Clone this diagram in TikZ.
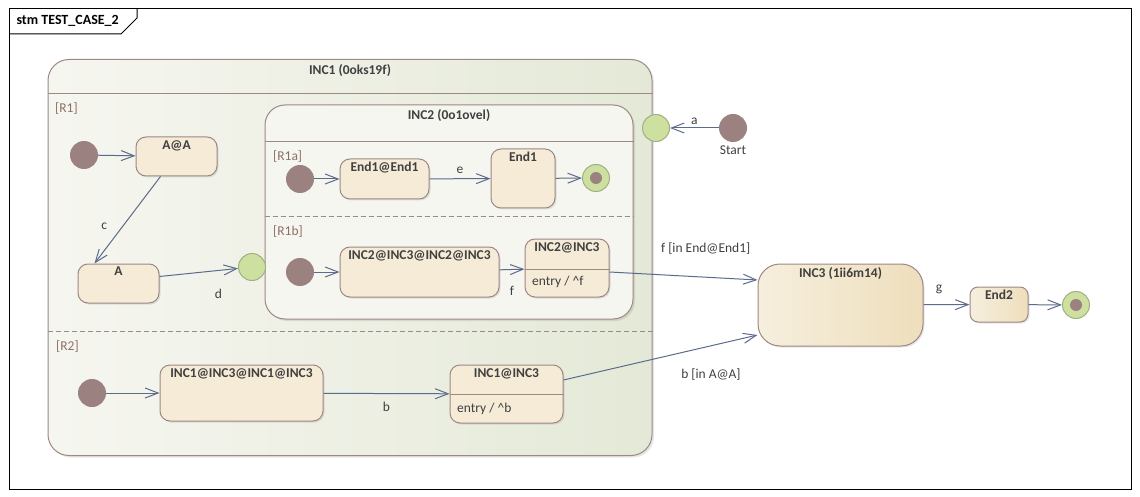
\documentclass[tikz,border=0pt]{standalone}
\usepackage{fontspec}
\setmainfont{Carlito}
\usepackage{tikz}
\usetikzlibrary{arrows.meta,shadows}
\usepackage{xcolor}
\definecolor{bordc}{RGB}{158,136,132}
\definecolor{statec}{RGB}{245,235,215}
\definecolor{initc}{RGB}{155,129,127}
\definecolor{greenc}{RGB}{205,224,160}
\definecolor{greenb}{RGB}{160,176,130}
\definecolor{arrc}{RGB}{92,107,140}
\definecolor{textc}{RGB}{64,64,64}
\definecolor{regc}{RGB}{140,112,102}
\definecolor{incl}{RGB}{246,246,240}
\definecolor{incr}{RGB}{228,233,215}
\definecolor{inctwo}{RGB}{246,246,240}
\definecolor{inc3l}{RGB}{246,239,222}
\definecolor{inc3r}{RGB}{238,222,188}

\begin{document}
\begin{tikzpicture}[x=1pt,y=-1pt,font=\fontsize{13.5}{16}\selectfont,text=textc]
      \tikzstyle{state}=[rectangle,draw=bordc,line width=1pt,fill=statec,rounded corners=10pt,inner sep=0pt,drop shadow={shadow xshift=1.5pt,shadow yshift=-1.5pt,opacity=0.2}]
      \tikzstyle{composite}=[rectangle,draw=bordc,line width=1pt,rounded corners=21pt,inner sep=0pt,drop shadow={shadow xshift=2pt,shadow yshift=-2pt,opacity=0.2}]
      \tikzstyle{title}=[anchor=north,inner sep=3.5pt,font=\fontsize{13.5}{16}\selectfont\bfseries]
      \tikzstyle{region}=[anchor=west,inner sep=0pt,text=regc]
      \tikzstyle{initial}=[circle,fill=initc,minimum size=28,inner sep=0pt]
      \tikzstyle{entrypt}=[circle,draw=greenb,fill=greenc,line width=1pt,minimum size=27,inner sep=0pt]
      \tikzstyle{final}=[circle,draw=greenb,fill=greenc,line width=1pt,minimum size=27,inner sep=0pt,path picture={\fill[initc] (path picture bounding box.center) circle (6pt);}]
      \tikzstyle{trans}=[draw=arrc,line width=1pt,-{Straight Barb[length=13pt,width=10pt]}]
      \useasboundingbox (0,0) rectangle (1140,497);
      \draw[line width=1pt] (9,9) rectangle (1131,489);
      \draw[line width=1pt] (9,34) -- (121,34) -- (137,18) -- (137,9);
      \node(frametitle)[anchor=west,text=black,font=\fontsize{14}{16}\selectfont\bfseries] at (13,21) {stm TEST\_CASE\_2};

      \node(inc1)[composite,left color=incl,right color=incr,minimum width=604,minimum height=396,label={[title,inner sep=5.5pt]north:INC1 (0oks19f)}] at (350,257.5) {};
      \draw[bordc,line width=1pt] (inc1.west |- 0,94) -- (inc1.east |- 0,94);
      \draw[bordc,line width=1pt,dash pattern=on 5pt off 3pt] (inc1.west |- 0,331) -- (inc1.east |- 0,331);
      \node(r1)[region] at (55,109) {[R1]};
      \node(r2)[region] at (56,347) {[R2]};

      \node(inc2)[composite,fill=inctwo,rounded corners=20pt,minimum width=368,minimum height=214,label={[title,inner sep=4.5pt]north:INC2 (0o1ovel)}] at (449,212) {};
      \draw[bordc,line width=1pt] (inc2.west |- 0,142) -- (inc2.east |- 0,142);
      \draw[bordc,line width=1pt,dash pattern=on 5pt off 3pt] (inc2.west |- 0,217) -- (inc2.east |- 0,217);
      \node(r1a)[region] at (273,157) {[R1a]};
      \node(r1b)[region] at (273,232) {[R1b]};

      \node(ini1)[initial] at (84,155) {};
      \node(aa)[state,minimum width=81,minimum height=39,label={[title]north:A@A}] at (176.5,156.5) {};
      \node(a)[state,minimum width=81,minimum height=39,label={[title]north:A}] at (118.5,283.5) {};
      \node(ep1)[entrypt] at (252,267) {};

      \node(ini2)[initial] at (300,179) {};
      \node(e11)[state,minimum width=89,minimum height=40,label={[title]north:End1@End1}] at (384.5,179) {};
      \node(end1)[state,minimum width=64,minimum height=59,label={[title]north:End1}] at (523,178.5) {};
      \node(fin1)[final] at (596,178) {};

      \node(ini3)[initial] at (300,272) {};
      \node(i2)[state,minimum width=159,minimum height=50,label={[title]north:INC2@INC3@INC2@INC3}] at (419.5,272) {};
      \node(i3)[state,minimum width=84,minimum height=58,label={[title]north:INC2@INC3}] at (567,268) {};
      \draw[bordc,line width=1pt] (i3.west |- 0,269) -- (i3.east |- 0,269);
      \node(i3entry)[anchor=west,inner sep=0pt] at (532,282) {entry / \textasciicircum f};

      \node(ini4)[initial] at (92,393) {};
      \node(r2a)[state,minimum width=163,minimum height=56,label={[title]north:INC1@INC3@INC1@INC3}] at (241.5,393) {};
      \node(r2b)[state,minimum width=113,minimum height=58,label={[title]north:INC1@INC3}] at (506.5,394) {};
      \draw[bordc,line width=1pt] (r2b.west |- 0,394) -- (r2b.east |- 0,394);
      \node(r2bentry)[anchor=west,inner sep=0pt] at (457,409) {entry / \textasciicircum b};

      \node(ep2)[entrypt] at (656,128) {};
      \node(start)[initial,label={[label distance=0pt]below:Start}] at (733,128) {};
      \node(inc3)[state,rounded corners=22pt,left color=inc3l,right color=inc3r,minimum width=165,minimum height=82,label={[title]north:INC3 (1ii6m14)}] at (840.5,305) {};
      \node(end2)[state,rounded corners=8pt,left color=inc3l,right color=inc3r,minimum width=58,minimum height=35,label={[title]north:End2}] at (999,304.5) {};
      \node(fin2)[final] at (1076,305) {};

      \draw[trans] (ini1) -- (aa);
      \draw[trans] ([xshift=-16]aa.south) -- node[left=12pt,pos=0.57]{c} ([xshift=-24]a.north);
      \draw[trans] ([yshift=7]a.east) -- node[pos=0.75,below=15pt]{d} (ep1);
      \draw[trans] (ini2) -- (e11);
      \draw[trans] (e11) -- node[above=1pt]{e} (end1);
      \draw[trans] (end1) -- (fin1);
      \draw[trans] (ini3) -- (i2);
      \draw[trans] (i2) -- node[below=13pt]{f} (i3);
      \draw[trans] ([yshift=-4]i3.east) -- node[pos=0.65,above=19pt]{f [in End@End1]} ([yshift=25]inc3.west);
      \draw[trans] (start) -- node[above=0pt]{a} (ep2);
      \draw[trans] (inc3) -- node[pos=0.34,above=7pt]{g} (end2);
      \draw[trans] (end2) -- (fin2);
      \draw[trans] (ini4) -- (r2a);
      \draw[trans] (r2a) -- node[below=5pt]{b} (r2b);
      \draw[trans] ([yshift=14]r2b.east) -- node[pos=0.76,below=19pt]{b [in A@A]} ([yshift=-30]inc3.west);
\end{tikzpicture}
\end{document}
